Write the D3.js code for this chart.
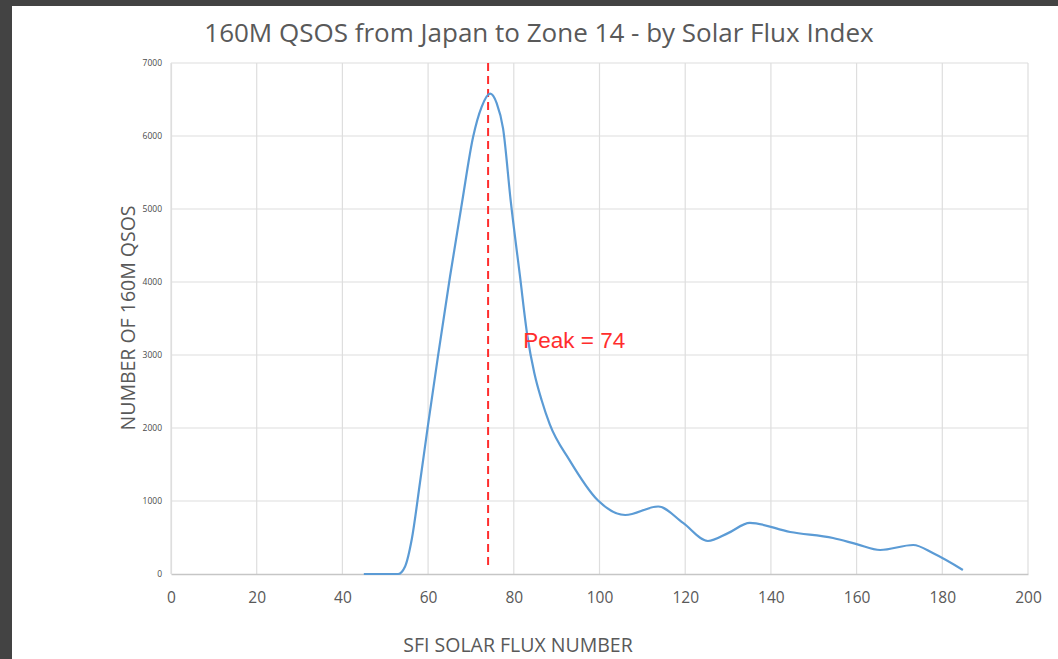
<!DOCTYPE html>
<html>
<head>
<meta charset="utf-8">
<script src="https://cdn.jsdelivr.net/npm/d3@7"></script>
<style>
  body { margin: 0; background: #434343; }
  #chart { display: block; }
</style>
</head>
<body>
<svg id="chart" width="1058" height="659"></svg>
<script>
// SFI value vs number of 160M QSOs
const sfi =  [45, 49, 53, 54.6, 56.2, 58.1, 60, 62.3, 65.1, 67.9, 70.5, 72.5, 74.5, 76, 77.5, 79.3, 81.4, 83.2, 84.8, 86.5, 88.4, 93, 99.6, 106, 113.7, 119.5, 125.3, 130, 135.1, 144.5, 154.5, 160, 165.5, 173.2, 178, 184.8];
const qsos = [0, 0, 0, 100, 480, 1250, 2050, 2980, 4068, 5082, 5986, 6400, 6580, 6450, 6100, 5100, 4100, 3250, 2750, 2380, 2050, 1560, 1010, 808, 925, 700, 452, 560, 700, 575, 493, 410, 329, 397, 280, 55];
const xTicks = [0, 20, 40, 60, 80, 100, 120, 140, 160, 180, 200];
const yTicks = [0, 1000, 2000, 3000, 4000, 5000, 6000, 7000];
const peakSfi = 74;

const svg = d3.select("#chart");
const m = {top: 63, left: 171, right: 30, bottom: 85};
const width = +svg.attr("width"), height = +svg.attr("height");
const innerWidth = width - m.left - m.right;
const innerHeight = height - m.top - m.bottom;

// white sheet with dark frame on the left and top
svg.append("rect").attr("x", 12).attr("y", 6)
    .attr("width", width - 12).attr("height", height - 6)
    .attr("fill", "#fff");

const x = d3.scaleLinear().domain([0, 200]).range([0, innerWidth]);
const y = d3.scaleLinear().domain([0, 7000]).range([innerHeight, 0]);

const g = svg.append("g")
    .attr("transform", `translate(${m.left}, ${m.top})`);

// grid
g.append("g")
    .selectAll("line").data(xTicks)
    .enter().append("line")
    .attr("x1", d => x(d)).attr("x2", d => x(d))
    .attr("y1", 0).attr("y2", innerHeight)
    .attr("stroke", "#dedede").attr("stroke-width", 1.2);

g.append("g")
    .selectAll("line").data(yTicks.slice(1))
    .enter().append("line")
    .attr("x1", 0).attr("x2", innerWidth)
    .attr("y1", d => y(d)).attr("y2", d => y(d))
    .attr("stroke", "#dedede").attr("stroke-width", 1.2);

// axes
const xAxis = d3.axisBottom(x).tickValues(xTicks).tickSize(0).tickPadding(18);
g.append("g")
    .attr("transform", `translate(0, ${innerHeight})`)
    .call(xAxis)
    .call(a => a.select(".domain").attr("stroke", "#c6c6c6").attr("stroke-width", 1.5))
    .selectAll("text")
    .attr("fill", "#595959")
    .style("font-family", "'Open Sans', sans-serif")
    .style("font-size", "15.5px");

const yAxis = d3.axisLeft(y).tickValues(yTicks).tickSize(0).tickPadding(9)
    .tickFormat(d3.format("d"));
g.append("g")
    .call(yAxis)
    .call(a => a.select(".domain").attr("stroke", "#dedede").attr("stroke-width", 1.2))
    .selectAll("text")
    .attr("fill", "#4a4a4a")
    .style("font-family", "'Open Sans', sans-serif")
    .style("font-size", "8.5px");

// peak marker
g.append("line")
    .attr("x1", x(peakSfi)).attr("x2", x(peakSfi))
    .attr("y1", 0).attr("y2", y(60))
    .attr("stroke", "#ff2d2d").attr("stroke-width", 2)
    .attr("stroke-dasharray", "8,5");

// curve
const pts = sfi.map((d, i) => [d, qsos[i]]);
const line = d3.line()
    .x(d => x(d[0]))
    .y(d => y(d[1]))
    .curve(d3.curveMonotoneX);

g.append("path")
    .attr("d", line(pts))
    .attr("fill", "none")
    .attr("stroke", "#5b9bd5")
    .attr("stroke-width", 2.2)
    .attr("stroke-linejoin", "round");

g.append("text")
    .attr("x", x(82.2)).attr("y", y(3000) - 7)
    .attr("fill", "#ff2d2d")
    .style("font-family", "'Liberation Sans', Arial, sans-serif")
    .style("font-size", "22.5px")
    .text(`Peak = ${peakSfi}`);

// titles
svg.append("text")
    .attr("x", 539).attr("y", 42)
    .attr("text-anchor", "middle")
    .attr("fill", "#595959")
    .style("font-family", "'Open Sans', sans-serif")
    .style("font-size", "26px")
    .text("160M QSOS from Japan to Zone 14 - by Solar Flux Index");

svg.append("text")
    .attr("x", 518).attr("y", 652)
    .attr("text-anchor", "middle")
    .attr("fill", "#595959")
    .style("font-family", "'Open Sans', sans-serif")
    .style("font-size", "19.5px")
    .text("SFI SOLAR FLUX NUMBER");

svg.append("text")
    .attr("transform", "translate(135, 318) rotate(-90)")
    .attr("text-anchor", "middle")
    .attr("fill", "#595959")
    .style("font-family", "'Open Sans', sans-serif")
    .style("font-size", "19.5px")
    .text("NUMBER OF 160M QSOS");
</script>
</body>
</html>
